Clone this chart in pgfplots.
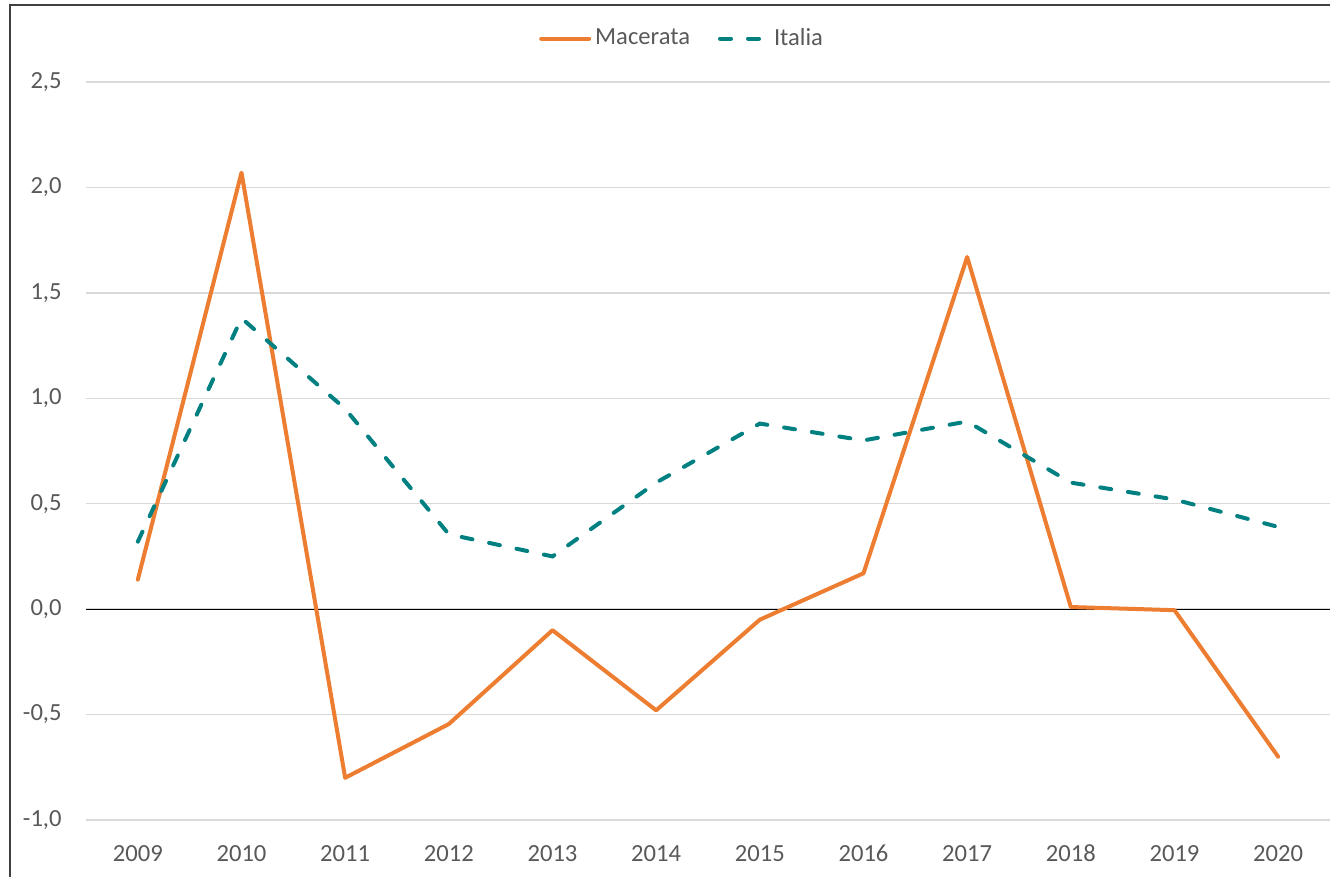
\documentclass[border=0pt]{standalone}
\usepackage{fontspec}
\setmainfont{Carlito}
\usepackage{pgfplots}
\pgfplotsset{compat=1.18}
\definecolor{macorange}{RGB}{237,125,49}
\definecolor{itateal}{RGB}{0,128,128}
\definecolor{gridgray}{RGB}{217,217,217}
\definecolor{txtgray}{RGB}{89,89,89}
\definecolor{framegray}{RGB}{64,64,64}
\begin{document}
\begin{tikzpicture}
\path[use as bounding box] (0,0) rectangle (665pt,438.5pt);
\draw[framegray, line width=1pt] (5pt,0) -- (5pt,436pt) -- (665pt,436pt);
\begin{axis}[
  at={(43pt,28.5pt)}, anchor=south west,
  scale only axis, width=622pt, height=369pt,
  xmin=-0.5, xmax=11.5, ymin=-1, ymax=2.5,
  xtick={0,...,11},
  xticklabels={2009,2010,2011,2012,2013,2014,2015,2016,2017,2018,2019,2020},
  ytick={-1,-0.5,0,0.5,1,1.5,2,2.5},
  yticklabels={{-1,0},{-0,5},{0,0},{0,5},{1,0},{1,5},{2,0},{2,5}},
  axis line style={draw=none},
  major tick length=0pt,
  ymajorgrids, grid style={gridgray, line width=0.75pt},
  tick label style={font=\fontsize{12.3}{14}\selectfont, text=txtgray, inner sep=0pt},
  yticklabel style={anchor=east, xshift=-12pt},
  xticklabel style={anchor=base, yshift=-21pt},
  legend style={draw=none, fill=none, at={(axis description cs:0.48,1)}, anchor=south, yshift=14.5pt,
    font=\fontsize{12.3}{14}\selectfont, text=txtgray, legend columns=-1,
    /tikz/every even column/.append style={column sep=12pt},
    inner sep=0pt, row sep=0pt},
  legend cell align=left,
  legend image code/.code={\draw[#1] (0pt,0pt) -- (24pt,0pt);},
  clip=false,
]
\addplot[black, line width=0.6pt, forget plot] coordinates {(-0.5,0) (11.5,0)};
\addplot[macorange, line width=2pt, line cap=round, line join=round] coordinates {
  (0,0.14) (1,2.07) (2,-0.80) (3,-0.545) (4,-0.10) (5,-0.48)
  (6,-0.05) (7,0.17) (8,1.67) (9,0.01) (10,-0.005) (11,-0.70)
};
\addlegendentry{Macerata}
\addplot[itateal, line width=2pt, line cap=round, dash pattern=on 5.5pt off 8.5pt] coordinates {
  (0,0.32) (1,1.38) (2,0.95) (3,0.355) (4,0.25) (5,0.60)
  (6,0.88) (7,0.80) (8,0.89) (9,0.60) (10,0.52) (11,0.39)
};
\addlegendentry{Italia}
\end{axis}
\end{tikzpicture}
\end{document}
